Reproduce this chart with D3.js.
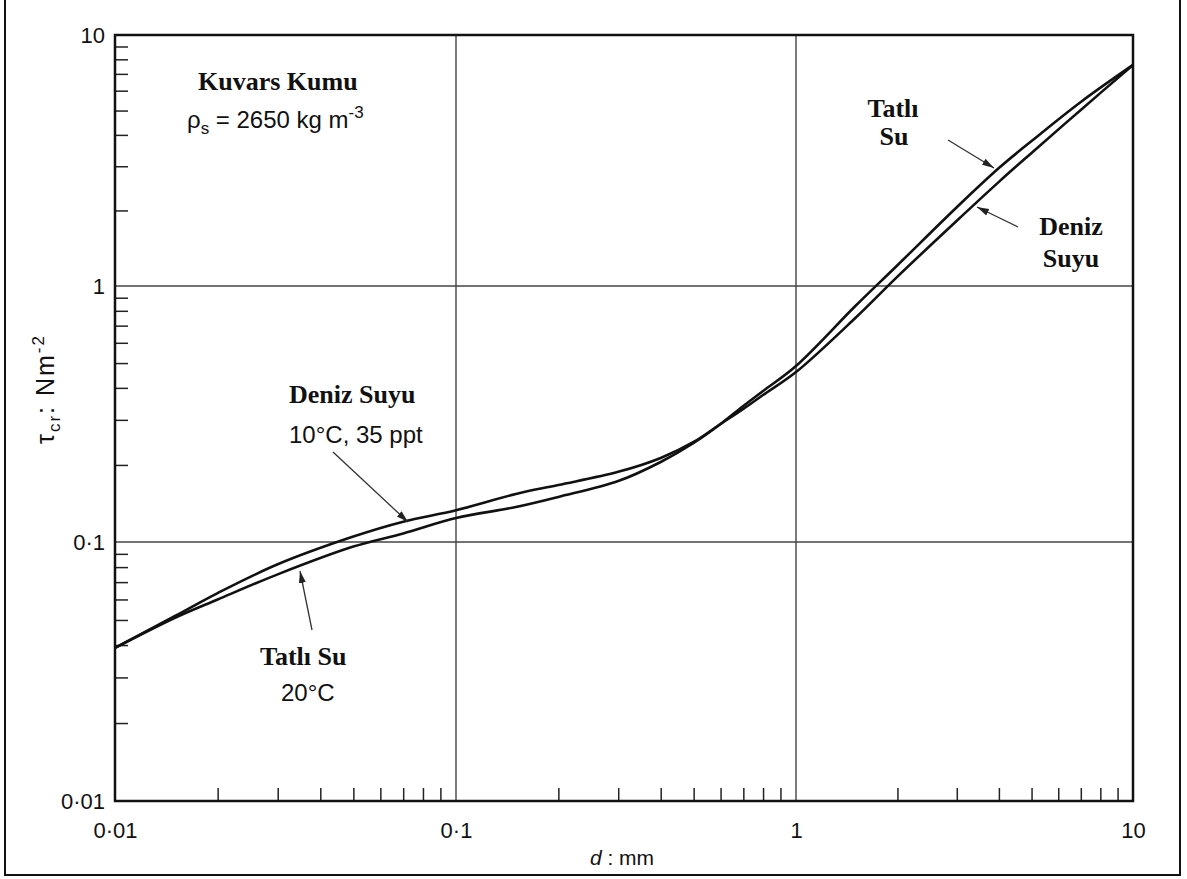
<!DOCTYPE html>
<html>
<head>
<meta charset="utf-8">
<script src="https://cdn.jsdelivr.net/npm/d3@7"></script>
<style>
  body { margin: 0; background: #fff; }
  text { font-family: 'Liberation Sans', Arial, sans-serif; fill: #111; }
  .bold { font-family: 'Liberation Serif', 'Times New Roman', serif; font-weight: bold; }
</style>
</head>
<body>
<div id="chart"></div>
<script>
// grain diameter d (mm) and critical shear stress (N m-2)
const dValues = [0.01, 0.015, 0.02, 0.03, 0.05, 0.07, 0.1, 0.15, 0.2, 0.3, 0.4, 0.5, 0.6, 0.7, 0.8, 1, 1.5, 2, 3, 4, 5, 7, 10];
const tatliSu = [0.039, 0.051, 0.060, 0.075, 0.096, 0.108, 0.124, 0.137, 0.150, 0.173, 0.2054, 0.2436, 0.289, 0.340, 0.389, 0.487, 0.835, 1.21, 2.06, 2.95, 3.78, 5.41, 7.6];
const denizSuyu = [0.039, 0.0518, 0.0635, 0.082, 0.105, 0.120, 0.133, 0.154, 0.167, 0.188, 0.213, 0.246, 0.289, 0.331, 0.375, 0.461, 0.750, 1.09, 1.82, 2.60, 3.39, 5.03, 7.6];

const decades = [0.01, 0.1, 1, 10];
const tickLabels = ['0·01', '0·1', '1', '10'];
const gridValues = [0.1, 1];

const w = 1187, h = 879;
const pLeft = 115, pRight = 1133, pTop = 35, pBottom = 801;

// the scanned axes are not exactly even per decade, so one segment per decade
const x = d3.scaleLog().domain(decades).range([pLeft, 456, 796, pRight]);
const y = d3.scaleLog().domain(decades).range([pBottom, 542, 286, pTop]);

let minor = [];
decades.slice(0, 3).forEach(function(p) {
  for (let k = 2; k <= 9; k++) minor.push(p * k);
});

const svg = d3.select('#chart').append('svg')
  .attr('width', w)
  .attr('height', h);

// outer border of the figure
svg.append('path')
  .attr('d', 'M5,0 V875 H1180 V0')
  .attr('fill', 'none')
  .attr('stroke', '#111')
  .attr('stroke-width', 2);

// grid
svg.selectAll('.gx').data(gridValues).enter().append('line')
  .attr('x1', d => x(d)).attr('x2', d => x(d))
  .attr('y1', pTop).attr('y2', pBottom)
  .attr('stroke', '#444').attr('stroke-width', 1.4);
svg.selectAll('.gy').data(gridValues).enter().append('line')
  .attr('x1', pLeft).attr('x2', pRight)
  .attr('y1', d => y(d)).attr('y2', d => y(d))
  .attr('stroke', '#444').attr('stroke-width', 1.4);

// minor ticks, pointing inwards
const xMinor = svg.append('g')
  .attr('transform', 'translate(0,' + pBottom + ')')
  .call(d3.axisBottom(x).tickValues(minor).tickSize(-13).tickFormat(''));
const yMinor = svg.append('g')
  .attr('transform', 'translate(' + pLeft + ',0)')
  .call(d3.axisLeft(y).tickValues(minor).tickSize(-13).tickFormat(''));
[xMinor, yMinor].forEach(function(g) {
  g.select('.domain').remove();
  g.selectAll('line').attr('stroke', '#222').attr('stroke-width', 1.5);
});

// major labels
const xAxis = svg.append('g')
  .attr('transform', 'translate(0,' + pBottom + ')')
  .call(d3.axisBottom(x).tickValues(decades).tickSize(0).tickPadding(21)
    .tickFormat((d, i) => tickLabels[i]));
const yAxis = svg.append('g')
  .attr('transform', 'translate(' + pLeft + ',0)')
  .call(d3.axisLeft(y).tickValues(decades).tickSize(0).tickPadding(10)
    .tickFormat((d, i) => tickLabels[i]));
[xAxis, yAxis].forEach(function(g) {
  g.select('.domain').remove();
  g.selectAll('text')
    .style('font-family', "'Liberation Sans', Arial, sans-serif")
    .style('font-size', '22px')
    .attr('fill', '#111');
});

// curves
const line = d3.line()
  .x(d => x(d[0]))
  .y(d => y(d[1]))
  .curve(d3.curveCatmullRom.alpha(0.5));

[tatliSu, denizSuyu].forEach(function(series) {
  svg.append('path')
    .datum(dValues.map((d, i) => [d, series[i]]))
    .attr('d', line)
    .attr('fill', 'none')
    .attr('stroke', '#111')
    .attr('stroke-width', 2.6);
});

// plot frame
svg.append('rect')
  .attr('x', pLeft).attr('y', pTop)
  .attr('width', pRight - pLeft).attr('height', pBottom - pTop)
  .attr('fill', 'none')
  .attr('stroke', '#111')
  .attr('stroke-width', 2.5);

// axis titles
const xt = svg.append('text')
  .attr('x', 622).attr('y', 865)
  .attr('text-anchor', 'middle')
  .style('font-size', '21px');
xt.append('tspan').style('font-style', 'italic').text('d');
xt.append('tspan').text(' : mm');

const yt = svg.append('text')
  .attr('transform', 'translate(54,389) rotate(-90)')
  .attr('text-anchor', 'middle')
  .style('font-size', '25px')
  .style('letter-spacing', '2px');
yt.append('tspan').text('τ');
yt.append('tspan').attr('dy', 6).style('font-size', '17px').text('cr');
yt.append('tspan').attr('dy', -6).text(':  Nm');
yt.append('tspan').attr('dy', -10).style('font-size', '17px').text('-2');

// annotations
svg.append('text').attr('class', 'bold')
  .attr('x', 198).attr('y', 90).style('font-size', '26px').text('Kuvars Kumu');
const rho = svg.append('text')
  .attr('x', 187).attr('y', 128).style('font-size', '24px');
rho.append('tspan').text('ρ');
rho.append('tspan').attr('dy', 6).style('font-size', '17px').text('s');
rho.append('tspan').attr('dy', -6).text(' = 2650 kg m');
rho.append('tspan').attr('dy', -10).style('font-size', '17px').text('-3');

svg.append('text').attr('class', 'bold')
  .attr('x', 289).attr('y', 403).style('font-size', '26px').text('Deniz Suyu');
svg.append('text')
  .attr('x', 289).attr('y', 443).style('font-size', '24px').text('10°C, 35 ppt');

svg.append('text').attr('class', 'bold')
  .attr('x', 260).attr('y', 665).style('font-size', '26px').text('Tatlı Su');
svg.append('text')
  .attr('x', 281).attr('y', 701).style('font-size', '24px').text('20°C');

svg.append('text').attr('class', 'bold').attr('text-anchor', 'middle')
  .attr('x', 893).attr('y', 117).style('font-size', '26px').text('Tatlı');
svg.append('text').attr('class', 'bold').attr('text-anchor', 'middle')
  .attr('x', 894).attr('y', 145).style('font-size', '26px').text('Su');
svg.append('text').attr('class', 'bold').attr('text-anchor', 'middle')
  .attr('x', 1071).attr('y', 235).style('font-size', '26px').text('Deniz');
svg.append('text').attr('class', 'bold').attr('text-anchor', 'middle')
  .attr('x', 1071).attr('y', 267).style('font-size', '26px').text('Suyu');

svg.append('defs').append('marker')
  .attr('id', 'arrow')
  .attr('markerUnits', 'userSpaceOnUse')
  .attr('viewBox', '0 -4 12 8')
  .attr('refX', 12).attr('refY', 0)
  .attr('markerWidth', 12).attr('markerHeight', 8)
  .attr('orient', 'auto')
  .append('path')
  .attr('d', 'M0,-3.5L12,0L0,3.5Z')
  .attr('fill', '#222');

const arrows = [
  [333, 452, 408, 522],
  [312, 630, 300, 571],
  [948, 140, 994, 168],
  [1018, 227, 977, 207]
];
svg.selectAll('.arrow').data(arrows).enter().append('line')
  .attr('x1', d => d[0]).attr('y1', d => d[1])
  .attr('x2', d => d[2]).attr('y2', d => d[3])
  .attr('stroke', '#333')
  .attr('stroke-width', 1.3)
  .attr('marker-end', 'url(#arrow)');
</script>
</body>
</html>
